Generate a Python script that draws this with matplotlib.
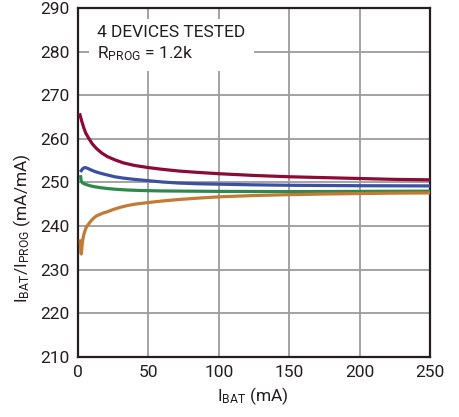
import matplotlib
matplotlib.use("Agg")
import matplotlib.pyplot as plt

# charge current ratio vs battery current, 4 parts
ibat_red = [1.4, 2.5, 4, 5.5, 7.8, 10, 13, 17, 21, 26, 32, 40, 50, 60, 72, 85, 100, 125, 150, 175, 200, 225, 250]
ratio_red = [265.5, 264.2, 262.6, 261.3, 260.0, 258.9, 257.8, 256.7, 255.9, 255.2, 254.5, 253.9, 253.4, 253.0, 252.6, 252.3, 252.0, 251.6, 251.3, 251.1, 250.9, 250.7, 250.6]

ibat_blue = [2.3, 3.2, 4.2, 5.4, 7, 9, 12, 16, 21, 26, 32, 40, 50, 60, 72, 85, 100, 125, 150, 200, 250]
ratio_blue = [252.7, 253.1, 253.35, 253.4, 253.2, 252.9, 252.5, 252.1, 251.7, 251.3, 251.0, 250.7, 250.4, 250.1, 249.85, 249.7, 249.6, 249.45, 249.35, 249.25, 249.2]

ibat_green = [1.9, 2.1, 2.5, 3, 4, 5.5, 7, 9, 12, 16, 21, 28, 36, 45, 60, 80, 100, 150, 200, 250]
ratio_green = [251.3, 250.6, 250.2, 249.95, 249.75, 249.55, 249.4, 249.2, 249.0, 248.8, 248.6, 248.4, 248.25, 248.15, 248.05, 248.0, 247.95, 247.9, 247.95, 248.0]

ibat_orange = [1.6, 1.8, 2.0, 2.3, 2.6, 3.0, 3.6, 4.3, 5, 6, 7.8, 9.5, 11, 13, 15, 18, 21, 25, 30, 35, 40, 50, 60, 72, 85, 100, 125, 150, 175, 200, 225, 250]
ratio_orange = [236.6, 235.2, 234.2, 233.6, 234.6, 236.0, 237.3, 238.3, 239.0, 239.8, 240.6, 241.3, 241.8, 242.3, 242.6, 243.0, 243.3, 243.8, 244.3, 244.7, 245.0, 245.4, 245.75, 246.1, 246.4, 246.7, 247.0, 247.2, 247.35, 247.45, 247.55, 247.6]

x_ticks = [0, 50, 100, 150, 200, 250]
y_ticks = [210, 220, 230, 240, 250, 260, 270, 280, 290]

plt.rcParams["font.family"] = ["Roboto", "DejaVu Sans"]
plt.rcParams["mathtext.fontset"] = "custom"
plt.rcParams["mathtext.rm"] = "Roboto"
plt.rcParams["mathtext.it"] = "Roboto"

ink = "#231f20"

fig = plt.figure(figsize=(4.59, 4.17), dpi=100)
ax = fig.add_axes([0.170, 0.144, 0.767, 0.837])

ax.plot(ibat_red, ratio_red, color="#8c0a34", lw=2.3, zorder=3)
ax.plot(ibat_blue, ratio_blue, color="#3b50a3", lw=2.3, zorder=3)
ax.plot(ibat_green, ratio_green, color="#2c8a4c", lw=2.3, zorder=3)
ax.plot(ibat_orange, ratio_orange, color="#c27a34", lw=2.3, zorder=3)

ax.set_xlim(0, 250)
ax.set_ylim(210, 290)
ax.set_xticks(x_ticks)
ax.set_yticks(y_ticks)
ax.tick_params(length=0, labelsize=12.5, pad=6, colors=ink)
ax.grid(True, color="#9c9c9c", lw=1.3, zorder=1)
ax.set_axisbelow(True)
for s in ax.spines.values():
    s.set_linewidth(1.6)
    s.set_color(ink)

ax.set_xlabel(r"I$_{\mathrm{BAT}}$ (mA)", fontsize=12.5, color=ink)
ax.xaxis.set_label_coords(0.497, -0.08)
ax.set_ylabel(r"I$_{\mathrm{BAT}}$/I$_{\mathrm{PROG}}$ (mA/mA)", fontsize=12.5, color=ink)
ax.yaxis.set_label_coords(-0.128, 0.37)

ax.text(0.055, 0.95, "4 DEVICES TESTED\n" + r"R$_{\mathrm{PROG}}$ = 1.2k",
        transform=ax.transAxes, fontsize=12.5, color=ink, va="top", ha="left",
        linespacing=1.25,
        bbox=dict(facecolor="white", edgecolor="none", pad=6), zorder=4)

fig.savefig("out.png", dpi=100)
